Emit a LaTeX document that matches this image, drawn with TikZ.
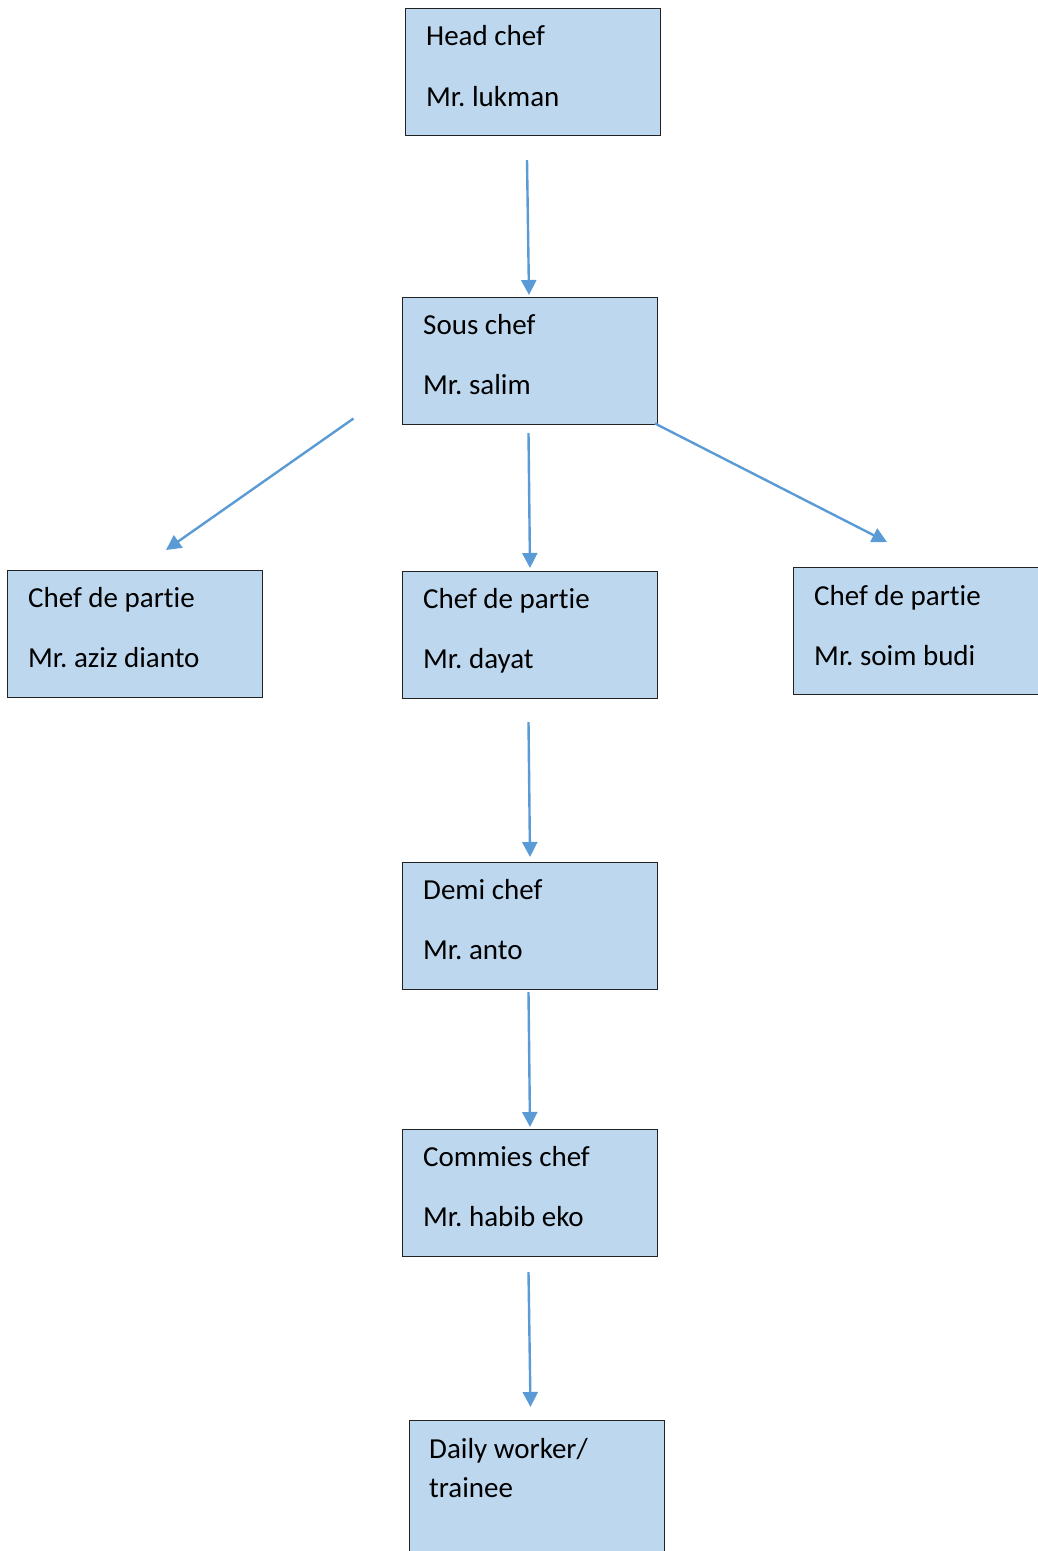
\documentclass[tikz,border=0pt]{standalone}
\usepackage{fontspec}
\setmainfont[Ligatures=NoCommon]{Carlito}
\usetikzlibrary{arrows.meta}
\definecolor{boxfill}{HTML}{BDD7EE}
\definecolor{arrcol}{HTML}{5B9BD5}
\definecolor{boxline}{HTML}{222222}
\frenchspacing
\begin{document}
\begin{tikzpicture}[x=1pt,y=-1pt,
  box/.style={draw=boxline, fill=boxfill, line width=1.4pt, anchor=north west,
    minimum width=255pt, minimum height=127pt, inner sep=0pt},
  lbl/.style={anchor=base west, inner sep=0pt, font=\fontsize{29}{35}\selectfont},
  arr/.style={draw=arrcol, line width=2.4pt, -{Triangle[width=15pt,length=15pt]}}]
\useasboundingbox (0,0) rectangle (1037,1551);
% boxes
\node[box] (hc) at (405,8) {};
\node[lbl] (hc1) at (426,45) {Head chef};
\node[lbl] (hc2) at (426,106) {Mr. lukman};

\node[box] (sc) at (402,297) {};
\node[lbl] (sc1) at (423,334) {Sous chef};
\node[lbl] (sc2) at (423,394) {Mr. salim};

\node[box] (cpl) at (7,570) {};
\node[lbl] (cpl1) at (28,607) {Chef de partie};
\node[lbl] (cpl2) at (28,667) {Mr. aziz dianto};

\node[box] (cpm) at (402,571) {};
\node[lbl] (cpm1) at (423,608) {Chef de partie};
\node[lbl] (cpm2) at (423,668) {Mr. dayat};

\node[box] (cpr) at (793,567) {};
\node[lbl] (cpr1) at (814,605) {Chef de partie};
\node[lbl] (cpr2) at (814,665) {Mr. soim budi};

\node[box] (dc) at (402,862) {};
\node[lbl] (dc1) at (423,899) {Demi chef};
\node[lbl] (dc2) at (423,959) {Mr. anto};

\node[box] (cc) at (402,1129) {};
\node[lbl] (cc1) at (423,1166) {Commies chef};
\node[lbl] (cc2) at (423,1226) {Mr. habib eko};

\node[box, minimum height=150pt] (dw) at (409,1420) {};
\node[lbl] (dw1) at (429,1458) {Daily worker/};
\node[lbl] (dw2) at (429,1497) {trainee};

% arrow end points
\coordinate (a1s) at (527,160);  \coordinate (a1e) at (529,295);
\coordinate (a2s) at (353.5,418.5); \coordinate (a2e) at (166,550);
\coordinate (a3s) at (528.5,433); \coordinate (a3e) at (530,568);
\coordinate (a4s) at (655,423.5); \coordinate (a4e) at (887,542);
\coordinate (a5s) at (528.5,722); \coordinate (a5e) at (530,857);
\coordinate (a6s) at (528.5,992); \coordinate (a6e) at (530,1127);
\coordinate (a7s) at (528.5,1272); \coordinate (a7e) at (530.5,1407);

\draw[arr] (a1s) -- (a1e);
\draw[arr] (a2s) -- (a2e);
\draw[arr] (a3s) -- (a3e);
\draw[arr] (a4s) -- (a4e);
\draw[arr] (a5s) -- (a5e);
\draw[arr] (a6s) -- (a6e);
\draw[arr] (a7s) -- (a7e);
\end{tikzpicture}
\end{document}
